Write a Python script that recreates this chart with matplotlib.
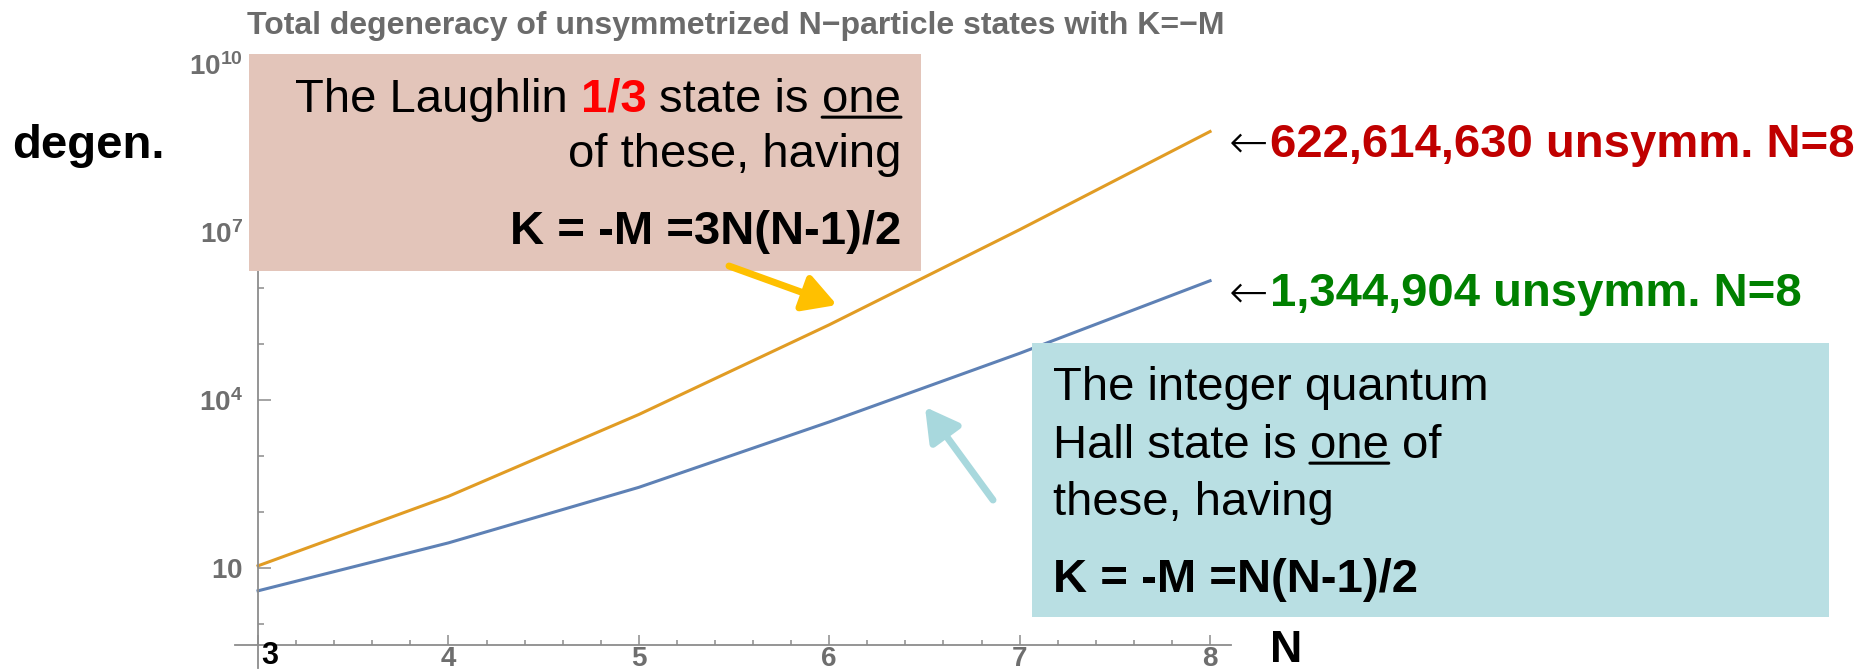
import matplotlib
matplotlib.use('Agg')
import matplotlib.pyplot as plt
from matplotlib.patches import FancyArrowPatch, Rectangle
from matplotlib.text import Annotation
from matplotlib.ticker import FixedLocator, FixedFormatter, MultipleLocator

plt.rcParams['font.family'] = ['Liberation Sans', 'DejaVu Sans']
plt.rcParams['mathtext.fontset'] = 'custom'
plt.rcParams['mathtext.bf'] = 'Liberation Sans:bold'
plt.rcParams['mathtext.rm'] = 'Liberation Sans'

# data (log scale)
N = [3, 4, 5, 6, 7, 8]
laughlin = [10.9, 190, 5500, 2.2e5, 1.1e7, 622614630]
iqh = [3.9, 28, 275, 4050, 6.8e4, 1344904]

x_ticks = [3, 4, 5, 6, 7, 8]
x_ticklabels = ['', '4', '5', '6', '7', '8']
y_ticks = [10, 1e4, 1e7, 1e10]
y_ticklabels = [r'$\mathbf{10}$', r'$\mathbf{10^{4}}$', r'$\mathbf{10^{7}}$', r'$\mathbf{10^{10}}$']
y_minor = [1, 1e2, 1e3, 1e5, 1e6, 1e8, 1e9]
title = 'Total degeneracy of unsymmetrized N\u2212particle states with K=\u2212M'

W, H = 1876, 671
fig = plt.figure(figsize=(W / 100, H / 100), dpi=100)


def fx(px):
    return px / W


def fy(py):
    return 1 - py / H


ax = fig.add_axes([fx(235), fy(645), fx(1231) - fx(235), fy(58) - fy(645)])
ax.set_yscale('log')
ax.set_xlim(2.879, 8.11)
ax.set_ylim(0.42, 1.28e10)
ax.plot(N, laughlin, color='#E19C24', lw=2.2)
ax.plot(N, iqh, color='#5E81B5', lw=2.2)

for s in ['top', 'right']:
    ax.spines[s].set_visible(False)
ax.spines['left'].set_position(('data', 3))
ax.spines['left'].set_bounds(0.165, 1.28e10)
for s in ['left', 'bottom']:
    ax.spines[s].set_color('#8c8c8c')
    ax.spines[s].set_linewidth(1.3)

ax.xaxis.set_major_locator(FixedLocator(x_ticks))
ax.xaxis.set_major_formatter(FixedFormatter(x_ticklabels))
ax.xaxis.set_minor_locator(MultipleLocator(0.2))
ax.yaxis.set_major_locator(FixedLocator(y_ticks))
ax.yaxis.set_major_formatter(FixedFormatter(y_ticklabels))
ax.yaxis.set_minor_locator(FixedLocator(y_minor))
ax.yaxis.set_minor_formatter(FixedFormatter([''] * len(y_minor)))

ax.tick_params(which='both', direction='in', color='#8c8c8c', labelcolor='#6e6e6e', width=1.1)
ax.tick_params(axis='y', which='major', length=9, pad=11, labelsize=20)
ax.tick_params(axis='y', which='minor', length=4.5)
ax.tick_params(axis='x', which='major', length=7, pad=1, labelsize=20)
ax.tick_params(axis='x', which='minor', length=3.5)
for lbl in ax.get_xticklabels():
    lbl.set_fontweight('bold')

fig.text(fx(736), fy(34), title, ha='center', va='baseline', fontsize=23,
         fontweight='bold', color='#6b6b6b')

# slide overlays
fig.add_artist(Rectangle((fx(249), fy(271)), fx(921) - fx(249), fy(54) - fy(271),
                         transform=fig.transFigure, facecolor='#E3C5BA', edgecolor='none', zorder=2))
fig.add_artist(Rectangle((fx(1032), fy(617)), fx(1829) - fx(1032), fy(343) - fy(617),
                         transform=fig.transFigure, facecolor='#B9DFE3', edgecolor='none', zorder=2))

FS = 34
SP = 0.278 * FS


def put(px, py, s, ha='left', va='baseline', **kw):
    t = fig.text(fx(px), fy(py), s, ha=ha, va=va, fontsize=kw.pop('fontsize', FS), zorder=3, **kw)
    return t


def attach(prev, s, side, gap=0.0, **kw):
    if side == 'right':
        a = Annotation(s, xy=(1, 0), xycoords=prev, xytext=(gap, 0), textcoords='offset points',
                       ha='left', va='bottom', fontsize=kw.pop('fontsize', FS), zorder=3, **kw)
    else:
        a = Annotation(s, xy=(0, 0), xycoords=prev, xytext=(-gap, 0), textcoords='offset points',
                       ha='right', va='bottom', fontsize=kw.pop('fontsize', FS), zorder=3, **kw)
    fig.add_artist(a)
    return a


def underline(t):
    a = Annotation('', xy=(0, 0.11), xycoords=t, xytext=(1, 0.11), textcoords=t,
                   arrowprops=dict(arrowstyle='-', lw=2.2, color='black', shrinkA=0, shrinkB=0),
                   zorder=3)
    fig.add_artist(a)


# pink box text, right aligned
t = put(901, 112, 'one', ha='right')
underline(t)
t = attach(t, 'state is', 'left', SP)
t = attach(t, '1/3', 'left', SP, color='#FF0000', fontweight='bold')
attach(t, 'The Laughlin', 'left', SP)
put(901, 167, 'of these, having', ha='right')
put(901, 244, 'K = -M =3N(N-1)/2', ha='right', fontweight='bold')

# blue box text, left aligned
put(1053, 400, 'The integer quantum')
t = put(1053, 458, 'Hall state is')
t = attach(t, 'one', 'right', SP)
underline(t)
attach(t, 'of', 'right', SP)
put(1053, 515, 'these, having')
put(1053, 592, 'K = -M =N(N-1)/2', fontweight='bold')

# pointer arrows
fig.add_artist(FancyArrowPatch((fx(729), fy(266)), (fx(837), fy(305)), transform=fig.transFigure,
                               arrowstyle='-|>,head_length=0.8,head_width=0.45', mutation_scale=25,
                               lw=5, color='#FFC000', shrinkA=0, shrinkB=0, zorder=3))
fig.add_artist(FancyArrowPatch((fx(993), fy(500)), (fx(925), fy(407)), transform=fig.transFigure,
                               arrowstyle='-|>,head_length=0.8,head_width=0.45', mutation_scale=25,
                               lw=5, color='#A8D8DD', shrinkA=0, shrinkB=0, zorder=3))

# end labels
t = put(1229, 158, '\u2190', color='black', family='DejaVu Sans', fontweight='light')
attach(t, f'{laughlin[-1]:,} unsymm. N={N[-1]}', 'right', 1, color='#C00000', fontweight='bold')
t = put(1229, 307, '\u2190', color='black', family='DejaVu Sans', fontweight='light')
attach(t, f'{iqh[-1]:,} unsymm. N={N[-1]}', 'right', 1, color='#008000', fontweight='bold')

put(12, 158, 'degen.', fontweight='bold')
put(1270, 671, 'N', va='bottom', fontsize=32, fontweight='bold')
put(261, 671, '3', va='bottom', fontsize=22, fontweight='bold')

fig.savefig('out.png', dpi=100)
